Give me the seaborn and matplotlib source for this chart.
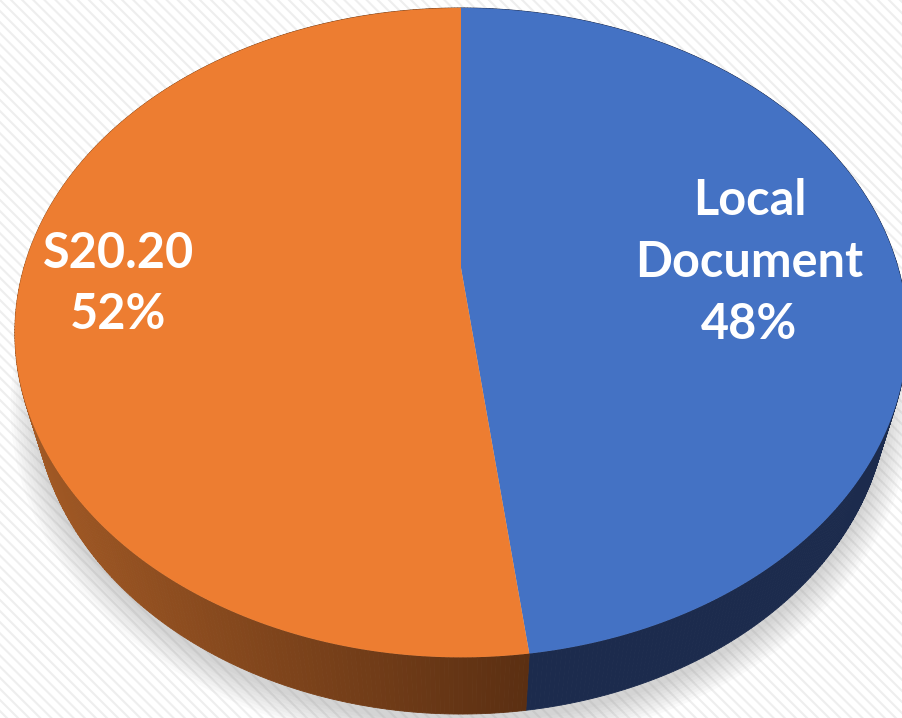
import numpy as np
import matplotlib
matplotlib.use("Agg")
import matplotlib.pyplot as plt
from matplotlib.patches import Rectangle
from matplotlib.colors import to_rgb
import seaborn as sns

sns.set_theme(style="white")
plt.rcParams['font.family'] = ['Lato', 'DejaVu Sans']
plt.rcParams['hatch.linewidth'] = 1.5

# data
categories = ["Local Document", "S20.20"]
values = [48, 52]
top_colors = ["#4472C4", "#ED7D31"]
side_light = ["#1C2B4D", "#A35A25"]
side_dark = ["#1C2B4D", "#5B2F12"]

# view settings (pixel space, y down)
W, H = 902, 718
cx, cy = 461, 268
f = 1539.0
dist0 = 3.52
tilt = np.deg2rad(45.5)
depth = 0.21
label_r = [0.65, 0.76]
label_shift = [(7, 7), (-8, 1)]


def project(x, y, z):
    s, c = np.sin(tilt), np.cos(tilt)
    dist = dist0 + y * c - z * s
    u = f * x / dist
    v = f * (y * s + z * c) / dist
    return cx + u, cy - v


def arc(a0, a1, r=1.0, z=0.0, n=200):
    a = np.deg2rad(np.linspace(a0, a1, n))
    return project(r * np.sin(a), r * np.cos(a), z)


fig = plt.figure(figsize=(9.02, 7.18), dpi=100)
ax = fig.add_axes([0, 0, 1, 1])
ax.set_xlim(0, W)
ax.set_ylim(H, 0)
ax.axis("off")

# striped background
ax.add_patch(Rectangle((0, 0), W, H, facecolor="white", edgecolor="#eeeeee",
                       linewidth=0, hatch="\\\\\\", zorder=0))

# soft shadow under the pie
for k in range(10):
    sx, sy = arc(0, 360, r=1.0 + 0.006 * k, z=-depth - 0.01, n=360)
    ax.fill(sx, sy + 6, color="#7f7f7f", alpha=0.035, lw=0, zorder=1)

total = sum(values)
angles = np.cumsum([0] + [v / total * 360 for v in values])

# side walls
xs_all = arc(0, 360, n=720)[0]
xmin = xs_all.min()
seam_x = project(np.sin(np.deg2rad(angles[1])), np.cos(np.deg2rad(angles[1])), 0)[0]
for i in range(len(values)):
    a0, a1 = angles[i], angles[i + 1]
    steps = np.linspace(a0, a1, int(a1 - a0) * 2 + 2)
    c_l, c_d = np.array(to_rgb(side_light[i])), np.array(to_rgb(side_dark[i]))
    for b0, b1 in zip(steps[:-1], steps[1:]):
        tx, ty = arc(b0, b1, z=0, n=3)
        bx, by = arc(b1, b0, z=-depth, n=3)
        t = np.clip((tx.mean() - xmin) / (seam_x - xmin), 0, 1)
        col = c_l + (c_d - c_l) * t
        ax.fill(np.r_[tx, bx], np.r_[ty, by], color=col, ec=col, lw=0.6, zorder=2)

# top faces
for i in range(len(values)):
    a0, a1 = angles[i], angles[i + 1]
    ox, oy = project(0, 0, 0)
    px, py = arc(a0, a1)
    ax.fill(np.r_[ox, px], np.r_[oy, py], color=top_colors[i], lw=0, zorder=3)

# labels
for i, name in enumerate(categories):
    mid = np.deg2rad((angles[i] + angles[i + 1]) / 2)
    lx, ly = project(label_r[i] * np.sin(mid), label_r[i] * np.cos(mid), 0)
    pct = f"{values[i] / total * 100:.0f}%"
    ax.text(lx + label_shift[i][0], ly + label_shift[i][1],
            name.replace(" ", "\n") + "\n" + pct, ha="center", va="center",
            color="white", fontsize=35, fontweight="bold", linespacing=1.45, zorder=4)

fig.savefig("out.png", dpi=100)
